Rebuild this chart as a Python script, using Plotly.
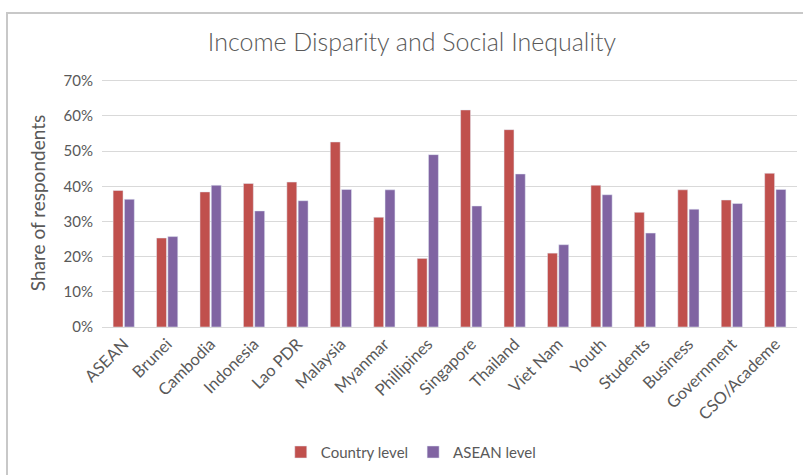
import plotly.graph_objects as go

categories = ["ASEAN", "Brunei", "Cambodia", "Indonesia", "Lao PDR", "Malaysia", "Myanmar",
              "Phillipines", "Singapore", "Thailand", "Viet Nam", "Youth", "Students",
              "Business", "Government", "CSO/Academe"]
country_level = [38.8, 25.3, 38.4, 40.8, 41.2, 52.6, 31.2, 19.5, 61.7, 56.1, 21.0, 40.3, 32.6, 39.0, 36.1, 43.7]
asean_level = [36.3, 25.7, 40.3, 33.0, 35.9, 39.1, 39.0, 49.0, 34.4, 43.5, 23.4, 37.6, 26.7, 33.5, 35.1, 39.1]
y_ticks = [0, 10, 20, 30, 40, 50, 60, 70]
y_tick_labels = ["0%", "10%", "20%", "30%", "40%", "50%", "60%", "70%"]

FONT = "Lato, Open Sans, sans-serif"
GREY = "#595959"

fig = go.Figure()
fig.add_trace(go.Bar(x=categories, y=country_level, name="Country level", marker_color="#C0504D"))
fig.add_trace(go.Bar(x=categories, y=asean_level, name="ASEAN level", marker_color="#8064A2"))

fig.update_layout(
    width=803, height=475,
    margin=dict(l=102, r=6, t=79, b=144),
    paper_bgcolor="white", plot_bgcolor="white",
    barmode="group", bargap=0.48, bargroupgap=0.12,
    font=dict(family=FONT, color=GREY, size=14),
    title=dict(text="Income Disparity and Social Inequality", x=0.513, xanchor="center",
               y=0.912, yanchor="middle", font=dict(size=25, color=GREY, family=FONT, weight=300)),
    showlegend=True,
    legend=dict(orientation="h", x=0.445, xanchor="center", y=-0.505, yanchor="middle",
                font=dict(size=15, color=GREY), traceorder="normal", itemwidth=30),
    xaxis=dict(tickangle=-45, showgrid=False, showline=True, linecolor="#d9d9d9",
               tickfont=dict(size=16.5, color=GREY), ticks=""),
    yaxis=dict(range=[0, 70.5], tickvals=y_ticks, ticktext=y_tick_labels, showgrid=True,
               gridcolor="#d9d9d9", zeroline=False, tickfont=dict(size=15, color=GREY),
               ticklabelstandoff=8,
               title=dict(text="Share of respondents", font=dict(size=19, color=GREY), standoff=12)),
    shapes=[dict(type="rect", xref="paper", yref="paper", x0=-0.1367, x1=1.03, y0=-0.62, y1=1.266,
                 line=dict(color="#c8c8c8", width=2), fillcolor="rgba(0,0,0,0)", layer="below")],
)

fig.write_html("out.html")
